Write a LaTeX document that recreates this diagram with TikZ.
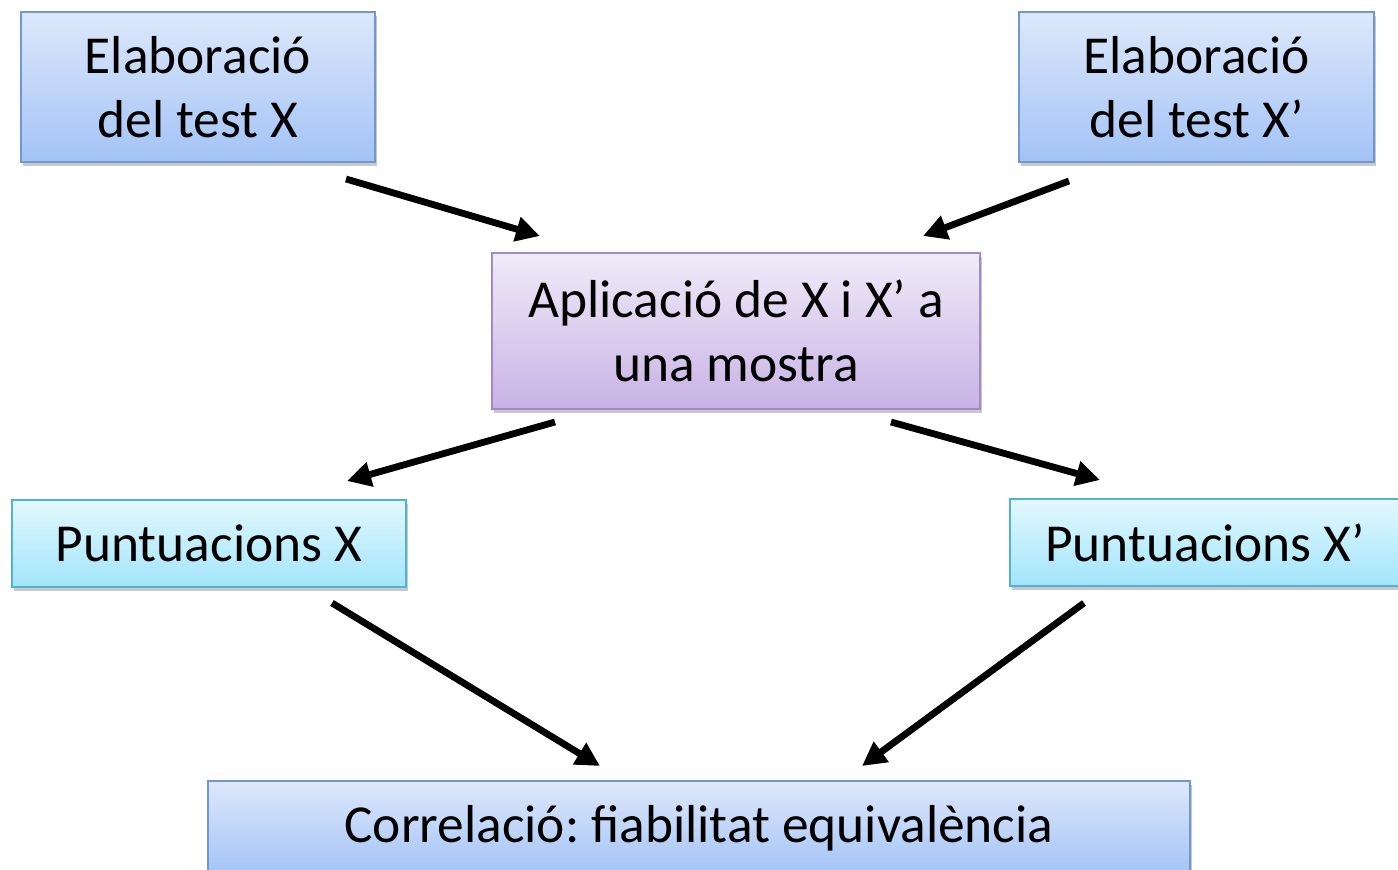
\documentclass[tikz,border=0pt]{standalone}
\usepackage{fontspec}
\setmainfont{Carlito}
\usepackage{tikz}
\usetikzlibrary{arrows.meta,calc,shadows}
\frenchspacing

\definecolor{bluetop}{HTML}{DDE8FB}
\definecolor{bluebot}{HTML}{A3C3F6}
\definecolor{blueline}{HTML}{7097D0}
\definecolor{lilatop}{HTML}{F0EBF8}
\definecolor{lilabot}{HTML}{C8B2E5}
\definecolor{lilaline}{HTML}{A08AC8}
\definecolor{cyantop}{HTML}{E2F8FE}
\definecolor{cyanbot}{HTML}{A2E5FA}
\definecolor{cyanline}{HTML}{52B3CE}

\begin{document}
\begin{tikzpicture}[x=0.5pt,y=-0.5pt]
	\tikzset{box/.style={draw,line width=1pt,align=center,inner sep=0pt,
		font=\fontsize{26.7}{32}\selectfont,
		drop shadow={shadow xshift=1pt,shadow yshift=-2pt,opacity=0.3,fill=black!70}}}
	\tikzset{bluebox/.style={box,draw=blueline,top color=bluetop,bottom color=bluebot}}
	\tikzset{lilabox/.style={box,draw=lilaline,top color=lilatop,bottom color=lilabot}}
	\tikzset{cyanbox/.style={box,draw=cyanline,top color=cyantop,bottom color=cyanbot}}
	\tikzset{fletxa/.style={line width=3.4pt,-{Triangle[length=12pt,width=12pt]}}}
	\useasboundingbox (0,0) rectangle (1398,870);
	% caixes
	\node[bluebox,minimum width=177pt,minimum height=75pt] (elabX) at (198,87) {Elaboració\\del test X};
	\node[bluebox,minimum width=177.5pt,minimum height=75pt] (elabXp) at (1196.5,87) {Elaboració\\del test X’};
	\node[lilabox,minimum width=244pt,minimum height=78pt] (aplic) at (736,331) {Aplicació de X i X’ a\\una mostra};
	\node[cyanbox,minimum width=197pt,minimum height=43.5pt] (puntX) at (209,543.5) {Puntuacions X};
	\node[cyanbox,minimum width=195pt,minimum height=43.5pt] (puntXp) at (1205,542.5) {Puntuacions X’};
	\node[bluebox,minimum width=491pt,minimum height=47pt] (correl) at (699,828) {Correlació: fiabilitat equivalència};
	% fletxes
	\draw[fletxa] ($(elabX.south east)+(-30,16)$) -- ($(aplic.north west)+(49,-16)$);
	\draw[fletxa] ($(elabXp.south west)+(51,18)$) -- ($(aplic.north east)+(-58,-16)$);
	\draw[fletxa] ($(aplic.south west)+(64,12)$) -- ($(puntX.north east)+(-60,-18)$);
	\draw[fletxa] ($(aplic.south east)+(-90,12)$) -- ($(puntXp.north west)+(91,-18)$);
	\draw[fletxa] ($(puntX.south east)+(-75,15)$) -- ($(correl.north west)+(393,-14)$);
	\draw[fletxa] ($(puntXp.south west)+(75,16)$) -- ($(correl.north east)+(-329,-14)$);
\end{tikzpicture}
\end{document}
